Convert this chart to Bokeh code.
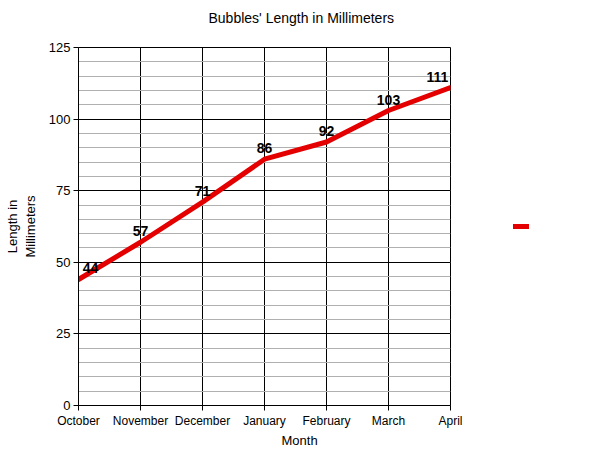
from bokeh.plotting import figure
from bokeh.layouts import row
from bokeh.models import Range1d, FixedTicker, Legend, LegendItem, ColumnDataSource, LabelSet, Title
from bokeh.core.properties import value
from bokeh.embed import file_html
from bokeh.resources import INLINE

months = ["October", "November", "December", "January", "February", "March", "April"]
lengths = [44, 57, 71, 86, 92, 103, 111]
y_ticks = [0, 25, 50, 75, 100, 125]
title_text = "Bubbles' Length in Millimeters"
x_title = "Month"
y_title = "Length in\nMillimeters"
series_name = " "

LINE_COLOR = "#e40000"
FONT = "Liberation Sans"

xs = list(range(len(months)))
x_offsets = [12, 0, 0, 0, 0, 0, -13]

p = figure(width=480, height=447, output_backend="svg", toolbar_location=None,
           x_range=Range1d(0, len(months) - 1), y_range=Range1d(0, 125),
           min_border_left=78, min_border_right=30, min_border_top=47, min_border_bottom=40)
p.title.text = ""

# spacer between frame and the chart title, then the title itself
p.add_layout(Title(text=" ", text_font_size="2px", standoff=18), "above")
p.add_layout(Title(text=title_text, align="left", offset=130, text_font=FONT,
                   text_font_size="14px", text_font_style="normal", text_color="black",
                   standoff=0), "above")

p.background_fill_color = "white"
p.border_fill_color = "white"
p.outline_line_color = "black"
p.outline_line_width = 1

p.xaxis.ticker = FixedTicker(ticks=xs)
p.xaxis.major_label_overrides = {i: m for i, m in enumerate(months)}
p.yaxis.ticker = FixedTicker(ticks=y_ticks, minor_ticks=list(range(0, 126, 5)))

for ax in (p.xaxis[0], p.yaxis[0]):
    ax.axis_line_color = "black"
    ax.major_tick_line_color = "black"
    ax.major_tick_in = 0
    ax.major_tick_out = 5
    ax.minor_tick_line_color = None
    ax.major_label_text_font = FONT
    ax.major_label_text_color = "black"
    ax.axis_label_text_font = FONT
    ax.axis_label_text_font_style = "normal"
    ax.axis_label_text_color = "black"
    ax.axis_label_text_font_size = "13px"

p.xaxis.major_label_text_font_size = "12px"
p.yaxis.major_label_text_font_size = "13px"
p.xaxis.major_label_standoff = 3
p.yaxis.major_label_standoff = 3
p.yaxis.axis_label = y_title
p.yaxis.axis_label_standoff = 8

# x-axis title, centred under the whole chart as in the reference
p.add_layout(Title(text=x_title, align="left", offset=203, text_font=FONT,
                   text_font_size="13px", text_font_style="normal", text_color="black",
                   standoff=0), "below")

p.xgrid.ticker = FixedTicker(ticks=xs)
p.xgrid.grid_line_color = "black"
p.xgrid.grid_line_width = 1
p.ygrid.grid_line_color = "black"
p.ygrid.minor_grid_line_color = "#b0b0b0"
p.ygrid.minor_grid_line_width = 1

src = ColumnDataSource(dict(x=xs, y=lengths, lab=[str(v) for v in lengths], xo=x_offsets))
r = p.line("x", "y", source=src, line_color=LINE_COLOR, line_width=5,
           line_join="round", line_cap="round")

labels = LabelSet(x="x", y="y", text="lab", source=src, x_offset="xo", y_offset=6,
                  text_align="center", text_baseline="bottom", text_font=value(FONT),
                  text_font_size=value("14px"), text_font_style="bold", text_color="black")
p.add_layout(labels)

# legend area at the right (a swatch only, as in the reference); the series
# itself lies outside this panel's ranges, only its legend swatch is shown
q = figure(width=82, height=447, output_backend="svg", toolbar_location=None,
           x_range=Range1d(-20, -10), y_range=Range1d(-20, -10),
           x_axis_location=None, y_axis_location=None,
           min_border_left=0, min_border_right=0, min_border_top=41, min_border_bottom=0)
q.outline_line_color = None
q.grid.visible = False
q.border_fill_color = "white"
q.background_fill_color = "white"
r2 = q.line("x", "y", source=src, line_color=LINE_COLOR, line_width=5, line_cap="round")
legend = Legend(items=[LegendItem(label=series_name, renderers=[r2])], location="center",
                border_line_color=None, background_fill_alpha=0, glyph_width=16, glyph_height=20,
                label_text_font_size="2px", label_standoff=0, label_width=0,
                padding=0, margin=0, spacing=0)
q.add_layout(legend, "center")

layout = row(p, q, spacing=0)
open("out.html", "w").write(file_html(layout, INLINE))
